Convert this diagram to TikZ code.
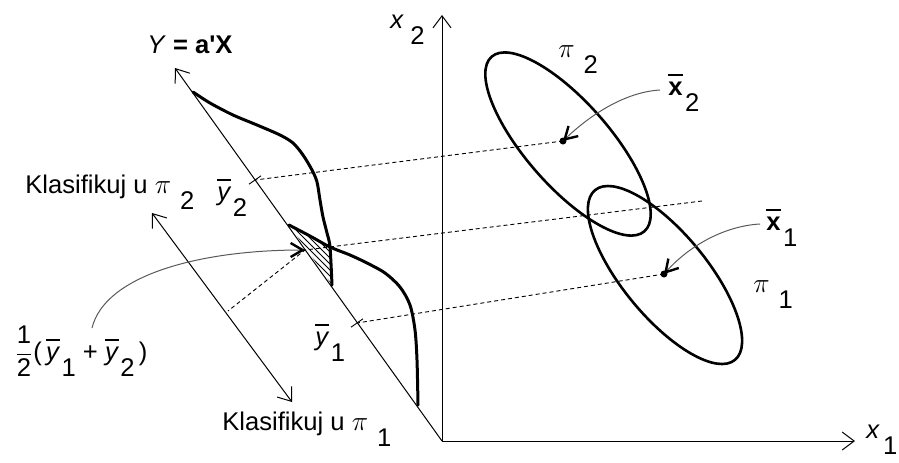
\documentclass[tikz,border=0pt]{standalone}
\usepackage{fontspec}
\setmainfont{Liberation Sans}
\usetikzlibrary{arrows.meta,patterns}

% lowered index, written full size as in the original
\newcommand{\lowsub}[2][0.25em]{\hspace{#1}\raisebox{-0.65em}{#2}}
% thick bar over a letter
\newcommand{\ovbar}[1]{\setbox0=\hbox{#1}\rlap{\raisebox{0.74em}{\rule{\wd0}{0.09em}}}\box0}
\newcommand{\bigpi}{\scalebox{1.15}{$\pi$}}

\begin{document}
\begin{tikzpicture}[
  x=0.5pt, y=-0.5pt,
  font=\fontsize{12.8}{15}\selectfont,
  lbl/.style={inner sep=0pt, anchor=base west},
  axis/.style={line width=0.5pt, -{Straight Barb[length=6pt,width=9pt]}},
  density/.style={line width=1.5pt, line join=round, line cap=round},
  group/.style={line width=1.3pt},
  proj/.style={line width=0.45pt, dash pattern=on 2pt off 1.5pt},
  pointer/.style={line width=0.5pt, gray!70!black,
    -{Straight Barb[length=6pt,width=7pt,line width=1.2pt,black]}}
]
\useasboundingbox (0,0) rectangle (899,462);

% axes
\coordinate (O) at (442,441);
\coordinate (x1end) at (855,441);
\coordinate (x2end) at (442,15);
\draw[axis] (O) -- (x1end);
\draw[axis] (O) -- (x2end);
\node[lbl] (x1lab) at (866,438) {\textit{x}\lowsub[0.12em]{1}};
\node[lbl] (x2lab) at (390,28) {\textit{x}\lowsub{2}};

% projection line Y = a'X
\coordinate (Ytip) at (175,68);
\draw[axis] (O) -- (Ytip);
\node[lbl] (Ylab) at (147,53) {\textit{Y} \textbf{= a\textquotesingle X}};

% points on the projection line
\coordinate (y2) at (255,180);
\coordinate (y1) at (357,323);
\coordinate (mid) at (305,250);
\draw[line width=0.45pt] (y2) ++(-6,4.2) -- ++(12,-8.4);
\draw[line width=0.45pt] (y1) ++(-6,4.2) -- ++(12,-8.4);

% classification axis
\coordinate (cls2) at (152,213);
\coordinate (cls1) at (292,402);
\coordinate (clsfoot) at (228,311);
\draw[line width=0.5pt, {Straight Barb[length=6pt,width=9pt]}-{Straight Barb[length=6pt,width=9pt]}] (cls2) -- (cls1);
\node[lbl] (kl2) at (25,193) {Klasifikuj u \bigpi\lowsub[0.35em]{2}};
\node[lbl] (kl1) at (222,430) {Klasifikuj u \bigpi\lowsub[0.35em]{1}};

% overlap of the two densities
\fill[pattern=north west lines] (289,225) -- (330,247) -- (332,285) -- cycle;

% densities of Y
\draw[density] plot[smooth] coordinates {(193,92) (210,103) (233,115) (257,125)
  (280,135) (293,143) (303,155) (312,170) (317,182) (320,200) (323,217)
  (327,233) (330,247) (332,285)};
\draw[density] plot[smooth] coordinates {(289,225) (310,236) (330,247) (350,255)
  (367,263) (385,273) (400,287) (410,305) (415,330) (417,360) (418,405)};

% the two groups
\draw[group, rotate around={-48.8:(568,144)}] (568,144) ellipse [x radius=116, y radius=42];
\draw[group, rotate around={-50.5:(665,275)}] (665,275) ellipse [x radius=110, y radius=42];
\coordinate (m2) at (563,141);
\coordinate (m1) at (664,274);
\coordinate (mright) at (702,201);
\fill (m2) circle (3.5);
\fill (m1) circle (3.5);
\node[lbl] (pi2lab) at (558,57) {\bigpi\lowsub[0.35em]{2}};
\node[lbl] (pi1lab) at (753,292) {\bigpi\lowsub[0.35em]{1}};
\node[lbl] (xb2lab) at (668,95) {\ovbar{\textbf{x}}\lowsub[0.1em]{2}};
\node[lbl] (xb1lab) at (766,230) {\ovbar{\textbf{x}}\lowsub[0.1em]{1}};

% projections
\draw[proj] (m2) -- (y2);
\draw[proj] (m1) -- (y1);
\draw[proj] (mright) -- (mid) -- (clsfoot);

\node[lbl] (yb2lab) at (217,200) {\ovbar{\textit{y}}\lowsub[0.05em]{2}};
\node[lbl] (yb1lab) at (315,345) {\ovbar{\textit{y}}\lowsub[0.05em]{1}};
\node[lbl] (halflab) at (14,360) {$\displaystyle\frac{\mbox{1}}{\mbox{2}}$(\,\ovbar{\textit{y}}\lowsub[0.05em]{1} + \ovbar{\textit{y}}\lowsub[0.05em]{2}\,)};

% pointers
\draw[pointer] (92,328) .. controls (105,275) and (200,250) .. (mid);
\draw[pointer] (660,90) .. controls (625,92) and (590,115) .. (m2);
\draw[pointer] (760,224) .. controls (725,226) and (690,245) .. (m1);
\end{tikzpicture}
\end{document}
